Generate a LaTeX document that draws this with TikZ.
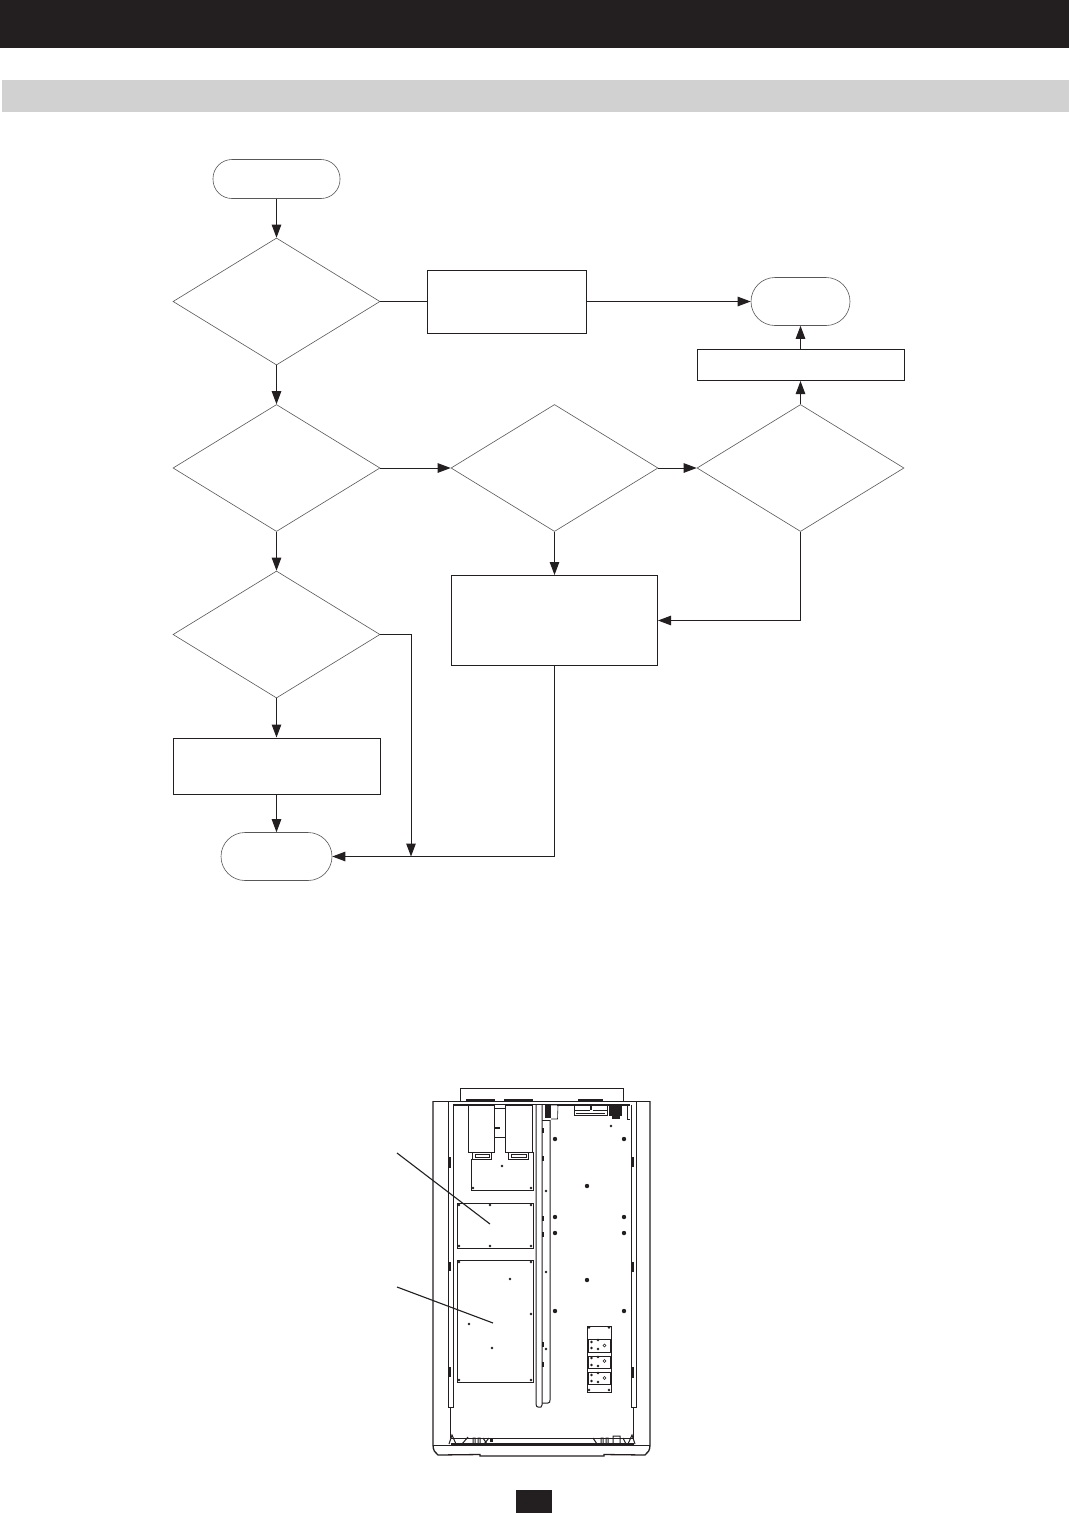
\documentclass[tikz,border=0pt]{standalone}
\usetikzlibrary{arrows.meta,shapes.geometric}
\definecolor{ink}{HTML}{231F20}
\definecolor{band}{HTML}{D1D1D1}
\tikzset{
  flow/.style={line width=1pt,draw=ink,-{Triangle[length=13pt,width=9.5pt]}},
  plainline/.style={line width=1pt,draw=ink},
  decision/.style={diamond,draw=ink!75,line width=0.6pt,inner sep=0pt,minimum width=207pt,minimum height=127pt,aspect=1.63},
  procbox/.style={rectangle,draw=ink,line width=1pt,inner sep=0pt},
  terminal/.style={rectangle,draw=ink!75,line width=0.6pt,inner sep=0pt,rounded corners=19pt},
  cab/.style={line width=1pt,draw=ink},
  thin cab/.style={line width=0.6pt,draw=ink},
  leader/.style={line width=1.1pt,draw=ink},
}
\newcommand{\bigdots}[1]{\foreach \p in {#1} \fill[ink] \p circle (2.2pt);}
\newcommand{\smalldots}[1]{\foreach \p in {#1} \fill[ink] \p circle (1.3pt);}
\begin{document}
\begin{tikzpicture}[x=1pt,y=-1pt]
\useasboundingbox (0,0) rectangle (1069,1513);
\fill[white] (0,0) rectangle (1069,1513);
% header bands
\fill[ink] (0,0) rectangle (1069,48);
\fill[band] (2,80) rectangle (1069,112);
% flowchart
\node[terminal,minimum width=127pt,minimum height=39pt] (start) at (276.5,179) {};
\node[decision] (d1) at (276.5,301.5) {};
\node[procbox,minimum width=159pt,minimum height=63pt] (b2) at (506.5,301.5) {};
\node[terminal,rounded corners=24pt,minimum width=99pt,minimum height=48pt] (end1) at (800.5,301.5) {};
\node[procbox,minimum width=207pt,minimum height=31pt] (b3) at (800.5,365) {};
\node[decision] (d2) at (276.5,468) {};
\node[decision] (d3) at (554.5,468) {};
\node[decision] (d4) at (800.5,468) {};
\node[procbox,minimum width=206pt,minimum height=90pt] (b4) at (554.5,620.5) {};
\node[decision] (d5) at (276.5,634.5) {};
\node[procbox,minimum width=207pt,minimum height=56pt] (b5) at (276.5,766) {};
\node[terminal,rounded corners=24pt,minimum width=111pt,minimum height=48pt] (end2) at (276.5,856.5) {};
\coordinate (j) at (411,856.5);
\draw[flow] (start) -- (d1);
\draw[plainline] (d1.east) -- (b2.west);
\draw[flow] (b2.east) -- (end1.west);
\draw[flow] (d1.south) -- (d2.north);
\draw[flow] (d2.east) -- (d3.west);
\draw[flow] (d3.east) -- (d4.west);
\draw[flow] (d4.north) -- (b3.south);
\draw[flow] (b3.north) -- (end1.south);
\draw[flow] (d3.south) -- (b4.north);
\draw[flow] (d4.south) |- (b4.east);
\draw[flow] (d2.south) -- (d5.north);
\draw[flow] (d5.south) -- (b5.north);
\draw[flow] (b5.south) -- (end2.north);
\draw[flow] (d5.east) -| (j);
\draw[flow] (b4.south) |- (end2.east);
% cabinet: outer
\draw[cab] (460,1101) -- (460,1088) -- (623,1088) -- (623,1101);
\draw[cab] (433,1101) -- (650,1101);
\draw[cab,line width=1.3pt] (433,1101) -- (433,1445) .. controls (433,1450) and (435,1453) .. (438,1455) -- (480,1454.5) -- (480,1456) -- (604,1456) -- (604,1454.5) -- (645,1455) .. controls (648,1453) and (650,1450) .. (650,1445) -- (650,1101);
\draw[cab] (433,1445) -- (650,1445);
\draw[cab,line width=1.7pt] (453,1105) -- (470,1105);
\draw[thin cab] (470,1104.5) -- (630,1104.5);
\draw[cab] (557,1105) -- (630,1105);
% humps on the top edge
\fill[ink] (466,1099) rectangle (495,1101);
\fill[ink] (504,1099) rectangle (533,1101);
\fill[ink] (578,1099) rectangle (603,1101);
% side rails
\draw[cab] (448,1101) -- (448,1407) -- (453,1407) -- (453,1105);
\draw[cab] (631,1105) -- (631,1407) -- (636,1407) -- (636,1101);
\draw[cab] (450.5,1407) -- (450.5,1438);
\draw[cab] (633.5,1407) -- (633.5,1438);
\draw[thin cab] (449.5,1157) rectangle (450.5,1167);
\draw[thin cab] (449.5,1262) rectangle (450.5,1270);
\draw[thin cab] (449.5,1367) rectangle (450.5,1376);
\fill[ink] (632,1157) rectangle (634,1167);
\fill[ink] (632,1262) rectangle (634,1272);
\fill[ink] (632,1367) rectangle (634,1378);
% centre channel
\draw[cab] (536,1105) -- (536,1404) .. controls (536,1406) and (537,1407) .. (538,1407) -- (541,1407) -- (542,1405) -- (542,1105);
\draw[cab] (542,1403) -- (548,1403) .. controls (549.5,1403) and (550,1402) .. (550,1400) -- (550,1120);
\draw[cab] (542,1120) -- (550,1120);
\foreach \y in {1128,1156,1216,1232,1342,1362} \fill[ink] (542,\y) rectangle (544,\y+5);
% connector blocks at the top
\fill[ink] (609,1105) rectangle (622,1116);
\fill[ink] (612,1116) rectangle (620,1119);
\draw[cab] (574,1106) -- (574,1115.5) -- (607,1115.5) -- (607,1106);
\fill[ink] (574,1109.5) rectangle (590,1110.5);
\fill[ink] (593,1109.5) rectangle (607,1110.5);
\fill[ink] (576,1113) rectangle (605,1114);
\fill[ink] (590,1105) rectangle (592,1110);
\fill[ink] (545,1105) rectangle (551,1118);
\draw[thin cab] (551,1105) -- (558,1105) -- (557.5,1119) -- (551,1119);
\draw[thin cab] (627,1106) -- (627,1119) -- (630,1119);
% capacitors
\draw[cab] (468,1105) rectangle (494,1152);
\draw[cab] (505,1105) rectangle (532,1152);
\draw[cab] (494,1108) -- (505,1108);
\draw[cab] (494,1137) -- (505,1137);
\fill[ink] (494,1127) rectangle (500,1129);
\draw[cab] (472,1152) -- (472,1159) -- (491,1159) -- (491,1152);
\draw[cab] (508,1152) -- (508,1159) -- (528,1159) -- (528,1152);
\draw[cab] (475,1154) rectangle (489,1157);
\draw[cab] (511,1154) rectangle (526,1157);
% panels
\draw[cab] (471,1159) -- (471,1190) -- (533,1190) -- (533,1152);
\draw[cab] (457,1203) rectangle (533,1248);
\draw[cab] (457,1260) rectangle (533,1382);
\smalldots{(473,1188),(531,1188),(459,1205),(490,1205),(531,1205),(459,1246),(490,1246),(531,1246),(459,1262),(531,1262),(510,1279),(531,1314),(469,1324),(492,1348),(459,1380),(531,1380),(502,1166),(546,1191),(546,1272),(546,1349),(611,1126)}
\bigdots{(555,1139),(624,1139),(587,1186),(555,1217),(624,1217),(555,1233),(624,1233),(587,1280),(555,1311),(624,1311)}
% terminal plate
\draw[cab] (587,1326) rectangle (611,1392);
\draw[cab] (588,1339) rectangle (610,1352);
\draw[cab] (588,1356) rectangle (610,1368);
\draw[cab] (588,1372) rectangle (610,1384);
\smalldots{(589,1327.5),(609,1327.5),(589,1390),(609,1390),(591.5,1342),(598,1340),(591.5,1348),(598,1349),(591.5,1358),(598,1357),(591.5,1365),(598,1366),(591.5,1375),(598,1373),(591.5,1381),(598,1382)}
\foreach \y in {1345.5,1361,1378} \draw[thin cab] (604.5,\y) circle (1.5pt);
% bottom strip
\draw[cab] (450.5,1438) -- (633.5,1438);
\draw[cab,line width=1.6pt] (450.5,1444) -- (633.5,1444);
\draw[cab] (449,1444) -- (452,1435) -- (456,1444) (462,1444) -- (468,1437) (473,1438) rectangle (475,1444) (478,1438) rectangle (480,1444) (483,1438) -- (487,1444) (489,1438) -- (484,1444);
\draw[cab] (593,1438) -- (597,1444) (601,1438) rectangle (603,1444) (606,1438) rectangle (608,1444) (613,1436) rectangle (620,1444) (623,1438) -- (626,1444) (628,1444) -- (632,1435) -- (635,1444);
\fill[ink] (490,1438) rectangle (492.5,1442);
% leaders
\coordinate (l1a) at (397,1153);
\coordinate (l1b) at (490,1224);
\coordinate (l2a) at (397,1287);
\coordinate (l2b) at (493,1323);
\draw[leader] (l1a) -- (l1b);
\draw[leader] (l2a) -- (l2b);
% page tab
\fill[ink] (516,1490) rectangle (552,1513);
\end{tikzpicture}
\end{document}
